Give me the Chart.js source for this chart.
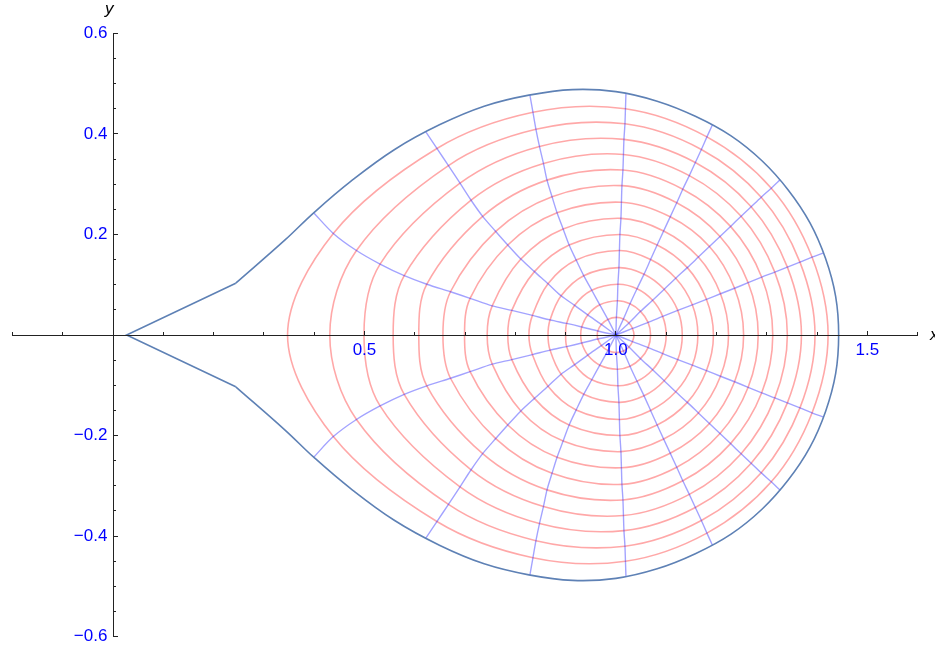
<!DOCTYPE html>
<html><head><meta charset="utf-8">
<script src="https://cdn.jsdelivr.net/npm/chart.js@4/dist/chart.umd.min.js"></script>
<style>
html,body{margin:0;padding:0;background:#fff;}
#wrap{position:relative;width:935px;height:647px;overflow:hidden;}
canvas{position:absolute;left:0;top:0;}
.ax{position:absolute;font-family:"Liberation Sans",Arial,sans-serif;font-style:italic;font-size:17px;line-height:17px;color:#000;}
</style></head><body>
<div id="wrap"><canvas id="c" width="935" height="647"></canvas>
<span class="ax" style="left:105px;top:0px">y</span>
<span class="ax" style="left:930px;top:326px">x</span></div>
<script>
// ---- data (upper half; index k = ring k+1, last entry = outer boundary) ----
const centerX = 1.0, centerY = 0.0;
const ray0X = [1.036,1.069,1.100,1.132,1.163,1.194,1.224,1.254,1.283,1.312,1.341,1.369,1.396,1.422,1.443];
const ray0Y = [0,0,0,0,0,0,0,0,0,0,0,0,0,0,0];
const ray1X = [1.033,1.064,1.093,1.123,1.152,1.180,1.208,1.236,1.263,1.290,1.316,1.341,1.366,1.390,1.412];
const ray1Y = [0.013,0.025,0.037,0.049,0.060,0.071,0.082,0.093,0.104,0.115,0.125,0.135,0.145,0.155,0.163];
const ray2X = [1.026,1.049,1.073,1.096,1.119,1.142,1.164,1.186,1.207,1.228,1.249,1.269,1.289,1.309,1.327];
const ray2Y = [0.024,0.047,0.069,0.091,0.113,0.134,0.155,0.176,0.196,0.216,0.236,0.255,0.274,0.292,0.309];
const ray3X = [1.015,1.028,1.042,1.056,1.069,1.082,1.095,1.108,1.121,1.133,1.146,1.158,1.170,1.181,1.192];
const ray3Y = [0.032,0.062,0.092,0.121,0.150,0.179,0.207,0.235,0.263,0.290,0.317,0.343,0.369,0.394,0.418];
const ray4X = [1.001,1.003,1.004,1.006,1.007,1.008,1.010,1.011,1.012,1.014,1.015,1.016,1.018,1.019,1.020];
const ray4Y = [0.035,0.068,0.101,0.134,0.168,0.200,0.232,0.264,0.297,0.328,0.359,0.389,0.420,0.450,0.481];
const ray5X = [0.984,0.968,0.952,0.936,0.921,0.907,0.895,0.883,0.873,0.863,0.856,0.848,0.841,0.835,0.829];
const ray5Y = [0.031,0.060,0.089,0.118,0.149,0.179,0.211,0.243,0.275,0.308,0.341,0.375,0.409,0.443,0.477];
const ray6X = [0.971,0.944,0.918,0.891,0.865,0.838,0.811,0.785,0.761,0.735,0.712,0.690,0.667,0.644,0.622];
const ray6Y = [0.021,0.040,0.059,0.078,0.102,0.126,0.151,0.179,0.206,0.236,0.268,0.302,0.337,0.371,0.404];
const ray7X = [0.964,0.932,0.902,0.869,0.834,0.793,0.754,0.710,0.671,0.624,0.579,0.531,0.484,0.438,0.399];
const ray7Y = [0.008,0.016,0.023,0.030,0.039,0.049,0.058,0.073,0.086,0.101,0.118,0.141,0.168,0.202,0.243];
const ray8X = [0.963,0.930,0.900,0.865,0.827,0.785,0.744,0.699,0.656,0.608,0.557,0.499,0.431,0.347,0.027];
const ray8Y = [0,0,0,0,0,0,0,0,0,0,0,0,0,0,0];
// outer boundary, upper half, from the left tip to the right end
const boundaryX = [0.027,0.244,0.342,0.399,0.472,0.560,0.649,0.738,0.827,0.914,1.000,1.082,1.158,1.229,1.291,1.343,1.386,1.417,1.437,1.443];
const boundaryY = [0,0.103,0.189,0.243,0.305,0.369,0.418,0.455,0.477,0.488,0.484,0.465,0.435,0.396,0.346,0.288,0.223,0.152,0.077,0];
// axis ticks
const xMajorTicks = [0.5,1.0,1.5];
const xMinorTicks = [-0.2,-0.1,0.1,0.2,0.3,0.4,0.6,0.7,0.8,0.9,1.1,1.2,1.3,1.4,1.6];
const yMajorTicks = [-0.6,-0.4,-0.2,0.2,0.4,0.6];
const yMinorTicks = [-0.55,-0.5,-0.45,-0.35,-0.3,-0.25,-0.15,-0.1,-0.05,0.05,0.1,0.15,0.25,0.3,0.35,0.45,0.5,0.55];

// ---- build datasets ----
const raysX = [ray0X,ray1X,ray2X,ray3X,ray4X,ray5X,ray6X,ray7X,ray8X];
const raysY = [ray0Y,ray1Y,ray2Y,ray3Y,ray4Y,ray5Y,ray6Y,ray7Y,ray8Y];
const RING_COLOR = 'rgba(255,0,0,0.34)';
const RAY_COLOR = 'rgba(0,0,255,0.36)';
const EDGE_COLOR = '#5e81b5';
const base = {showLine:true, pointRadius:0, pointHoverRadius:0, fill:false, xAxisID:'x', yAxisID:'y'};
const datasets = [];

// boundary (smooth part + straight tip)
const smooth = [];
for (let i = 1; i < boundaryX.length; i++) smooth.push({x:boundaryX[i], y:boundaryY[i]});
for (let i = boundaryX.length - 2; i >= 1; i--) smooth.push({x:boundaryX[i], y:-boundaryY[i]});
datasets.push(Object.assign({}, base, {data:smooth, borderColor:EDGE_COLOR, borderWidth:1.6, tension:0.4}));
datasets.push(Object.assign({}, base, {data:[{x:boundaryX[1],y:-boundaryY[1]},{x:boundaryX[0],y:boundaryY[0]},{x:boundaryX[1],y:boundaryY[1]}], borderColor:EDGE_COLOR, borderWidth:1.6, tension:0}));

// rays (the two along the x axis are hidden under the axis line)
for (let j = 1; j < raysX.length - 1; j++) {
  const up = [{x:centerX, y:centerY}];
  for (let k = 0; k < raysX[j].length; k++) up.push({x:raysX[j][k], y:raysY[j][k]});
  datasets.push(Object.assign({}, base, {data:up, borderColor:RAY_COLOR, borderWidth:1.4, tension:0.3}));
  const dn = up.map(p => ({x:p.x, y:-p.y}));
  datasets.push(Object.assign({}, base, {data:dn, borderColor:RAY_COLOR, borderWidth:1.4, tension:0.3}));
}
// rings (closed loops)
const ringCount = ray0X.length - 1;
for (let k = 0; k < ringCount; k++) {
  const pts = [];
  for (let j = 0; j < raysX.length; j++) pts.push({x:raysX[j][k], y:raysY[j][k]});
  for (let j = raysX.length - 2; j >= 1; j--) pts.push({x:raysX[j][k], y:-raysY[j][k]});
  datasets.push(Object.assign({}, base, {data:pts, borderColor:RING_COLOR, borderWidth:1.6, tension:0.34, closedLoop:true}));
}

const loopPlugin = {
  id:'loopPlugin',
  afterDatasetUpdate(chart, args) {
    const ds = chart.data.datasets[args.index];
    const line = args.meta.dataset;
    if (ds.closedLoop && line) {
      line._loop = true; line._fullLoop = true; line._pointsUpdated = false;
      delete line._path; delete line._segments;
    }
  }
};

const FONT = {family:"'Liberation Sans', Arial, sans-serif", size:17};
const AXIS = '#222';
function fmt(v){ const s = Math.abs(v).toFixed(1); return v < 0 ? '\u2212' + s : s; }
function noPadX(s){ s.height = 0; s.paddingLeft = 0; s.paddingRight = 0; s.paddingTop = 0; s.paddingBottom = 0; }
function noPadY(s){ s.width = 0; s.paddingLeft = 0; s.paddingRight = 0; s.paddingTop = 0; s.paddingBottom = 0; }

new Chart(document.getElementById('c'), {
  type:'scatter',
  data:{datasets},
  plugins:[loopPlugin],
  options:{
    responsive:false, devicePixelRatio:1, animation:false,
    layout:{padding:{left:12.5, right:17.4, top:33.3, bottom:10.3}},
    plugins:{legend:{display:false}, tooltip:{enabled:false}},
    events:[],
    scales:{
      x:{type:'linear', min:-0.2, max:1.6, position:{y:0},
        afterFit:noPadX,
        afterBuildTicks:(s)=>{s.ticks = xMajorTicks.map(v=>({value:v}));},
        border:{display:true, color:AXIS, width:1, z:1},
        grid:{drawOnChartArea:false, drawTicks:true, tickLength:-5, tickColor:AXIS, tickWidth:1, z:1},
        ticks:{autoSkip:false, maxRotation:0, padding:10, color:'#0000ff', font:FONT, z:1, callback:(v)=>fmt(v)}},
      y:{type:'linear', min:-0.6, max:0.6, position:{x:0},
        afterFit:noPadY,
        afterBuildTicks:(s)=>{s.ticks = yMajorTicks.map(v=>({value:v}));},
        border:{display:true, color:AXIS, width:1, z:1},
        grid:{drawOnChartArea:false, drawTicks:true, tickLength:-5, tickColor:AXIS, tickWidth:1, z:1},
        ticks:{autoSkip:false, padding:6, color:'#0000ff', font:FONT, z:1, callback:(v)=>fmt(v) + '\u2005\u200A'}},
      x2:{type:'linear', min:-0.2, max:1.6, position:{y:0},
        afterFit:noPadX,
        afterBuildTicks:(s)=>{s.ticks = xMinorTicks.map(v=>({value:v}));},
        border:{display:false},
        grid:{drawOnChartArea:false, drawTicks:true, tickLength:-3, tickColor:AXIS, tickWidth:1, z:1},
        ticks:{display:false}},
      y2:{type:'linear', min:-0.6, max:0.6, position:{x:0},
        afterFit:noPadY,
        afterBuildTicks:(s)=>{s.ticks = yMinorTicks.map(v=>({value:v}));},
        border:{display:false},
        grid:{drawOnChartArea:false, drawTicks:true, tickLength:-3, tickColor:AXIS, tickWidth:1, z:1},
        ticks:{display:false}}
    }
  }
});
</script></body></html>
